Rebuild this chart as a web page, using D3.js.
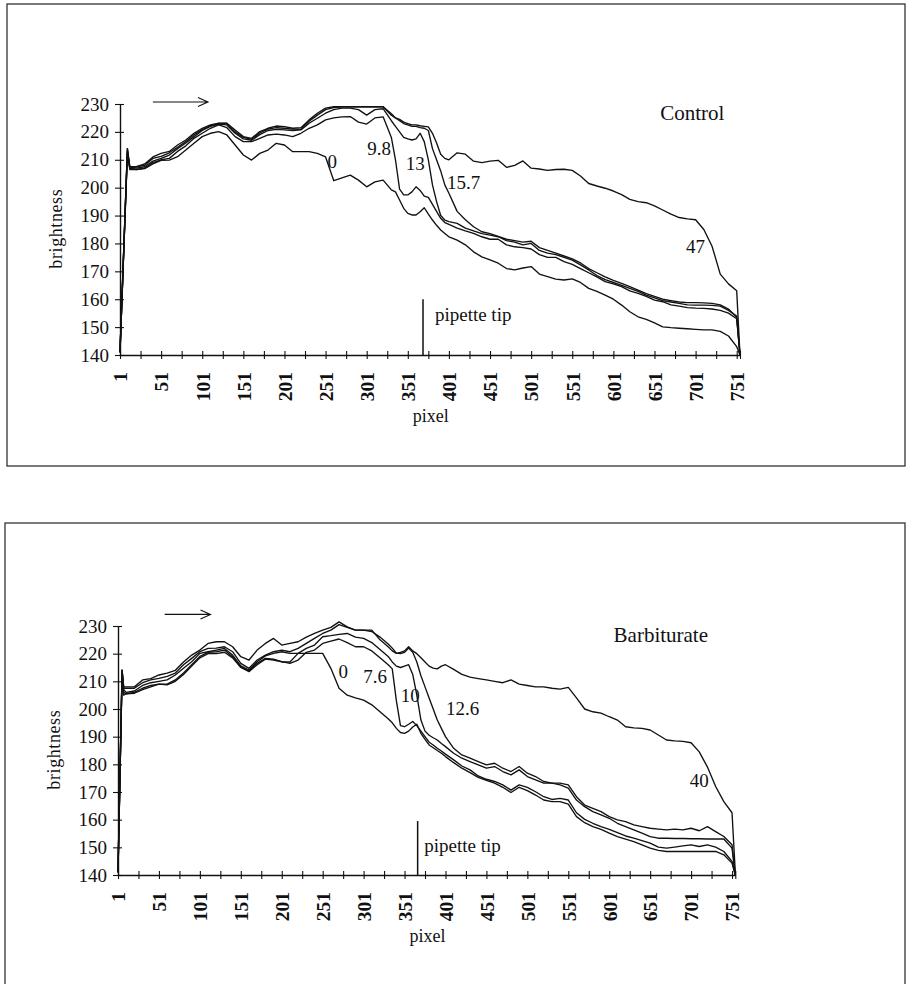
<!DOCTYPE html>
<html><head><meta charset="utf-8">
<script src="https://cdn.jsdelivr.net/npm/d3@7"></script>
<style>
body{margin:0;background:#fff}
svg{display:block}
text{font-family:"Liberation Serif","Times New Roman",serif;fill:#111}
</style>
</head><body><svg id="c" width="908" height="984"></svg>
<script>
// ---------- DATA ----------
const xTickValues = [1,26,51,76,101,126,151,176,201,226,251,276,301,326,351,376,401,426,451,476,501,526,551,576,601,626,651,676,701,726,751,755];
const xTickLabels = [1,51,101,151,201,251,301,351,401,451,501,551,601,651,701,751];
const yTickValues = [140,150,160,170,180,190,200,210,220,230];

const topPixels = [1,10,13,21,31,41,51,61,71,81,91,101,111,121,131,141,151,161,171,181,191,201,211,221,231,241,251,261,271,281,291,301,311,321,331,336,341,346,351,356,361,366,371,376,381,386,391,396,401,411,421,431,441,451,461,471,481,491,501,511,521,531,541,551,561,571,581,591,601,611,621,631,641,651,661,671,681,691,701,711,721,731,741,751,755];

const controlNames = ["0","9.8","13","15.7","47"];
const control0 = [141,213,207,206.5,206.8,208.5,209.8,209.9,211.1,213.5,215.9,218.3,219.5,220.1,218.9,215.3,211.7,209.9,212.3,213.5,215.9,215.3,212.9,212.9,212.9,212.3,211,202.5,203.5,204.5,202.7,200.3,202.1,202.7,199.2,198.5,195.6,192.6,190.8,190.2,190.2,191.4,192.8,190.5,188.4,186.5,184.8,183.6,182.4,181.2,179.5,177,175.2,174.1,172.9,171,170.5,171.2,171.7,169,168.1,167.2,166.9,167.3,166,163.9,162.8,161.5,160,157.9,155.5,153.7,152.8,151.5,150.1,149.8,149.6,149.4,149.2,149,149,148.5,146.8,143,140];
const control98 = [141,212,206.5,206.5,207,209,210,210.5,213,215,217.7,219.5,221.3,222.5,221.5,218.3,216.5,216.5,217.7,218.9,219.2,218.9,218.3,219.5,221.3,222.5,224.3,225,225.4,225.5,223.5,222.8,225,225.4,218,210,199.5,197.4,197.4,198.5,200.3,199,197,196.5,194,191.5,189,187.5,186.8,185.5,184.5,183.6,182.4,181.5,181.5,179.5,178.8,178.5,178,176,175,175,173.5,172.5,171,169.5,168,166.3,165.5,164.5,163,162.1,161,159.7,159.1,158,157.5,157,156.8,156.7,156.5,156,155,153,140];
const control13 = [141,213,207,207,207.5,209.5,210.5,211.7,214,216,218.3,220.5,222,222.8,222.5,219.5,217.5,217,219,220.5,220.9,220.7,220.5,220.7,223.1,224.9,226.7,228,228.5,228.5,228,226,228,228.3,224,222,220,218,217.5,217.1,217.5,219.5,216.5,210,201,195,190,188.4,187.8,187.2,185.5,184.5,183.5,183,182.4,181,180.5,179.5,180,177.5,176.5,176,175,174,172.3,170.5,168.5,167,166,165,163.9,162.8,161.5,160.5,159.5,159,158.5,158,157.9,157.9,157.8,157.5,156,154,140];
const control157 = [141,214,207.5,207.5,208,210.5,211.2,212.5,214.5,216.5,219,220.8,222.2,223,223,220,218,217.3,219.6,221,221.5,221.3,221,220.9,223.8,226,228,228.7,229,229,229,229,229,229,226.5,225,224,223,222.5,222,222,221.5,221.3,220.5,214,210,206,201,198,191.5,188.5,186,184.2,183.5,182.5,181.5,181,180.5,180.8,178.5,177.5,176.5,175.5,174.5,173,171,169.5,168,166.8,165.7,164.5,163.3,162,161,160,159.5,159,158.8,158.8,158.7,158.5,158,156.5,153.5,140];
const control47 = [141,214,207,207.5,208.5,211,212.3,213,215.3,217.1,219.5,221.3,222.5,223.1,223.1,220.7,218.3,217.7,220.1,221.3,222.1,221.9,221.3,221.5,224.3,226.7,228.5,229,229,229,229,229,229,229,226,225,224.5,223.5,223,222.5,222.5,222.2,222,221.8,219.5,216,212,210.5,210,212.5,212,209.5,209,209.5,209.8,207.3,208,209.6,207,206.7,206.2,206.5,206.6,206.2,204.2,201.5,200.6,199.8,198.8,197.5,195.8,195,194.6,193.5,192,190.5,189.3,188.8,188.5,185,179,169,165.5,163,140];

const botPixels = [1,6,8,11,21,31,41,51,61,71,81,91,101,111,121,131,141,151,161,171,181,191,201,211,221,231,241,251,261,271,281,291,301,311,321,331,336,341,346,351,356,361,366,371,376,381,386,391,396,401,411,421,431,441,451,461,471,481,491,501,511,521,531,541,551,561,571,581,591,601,611,621,631,641,651,661,671,681,691,701,711,721,731,741,751,755];

const barbNames = ["0","7.6","10","12.6","40"];
const barb0 = [141,212,205,205.5,205.7,207,208,209,208.7,210,212.5,215.5,218.5,220,220,220.5,218.5,215,213.5,216,218,217.7,217,217,220.1,220.1,220.1,220.1,214.7,207.5,205,204,203.2,201.5,199,196.5,195,193,191.5,191.2,192,193.5,194.5,191.2,189,187,186,185,184,182.8,180.6,178.6,177,175.3,174.2,173.2,171.7,169.8,171.7,170.5,168.9,167.1,166.5,166.5,165.6,161.1,158.9,157.5,156.5,155.1,153.9,153,152.1,150.9,149.7,148.9,148.5,148.5,148.5,148.5,148.5,148.5,148.5,147.3,144.3,140];
const barb76 = [141,213,206,205.5,206,207.5,208.5,209,209,210.5,213,216,219,220.5,220.7,221.3,218.9,215.2,213.8,216.5,218.3,218,217.1,216.5,217.7,220.5,221.3,223.7,224.5,225.3,224,222.5,222.5,221,218.5,216,214.5,203,194,193.6,194.5,195.5,194,192,190,188,187,185.8,184.8,183.7,181.6,179.4,178,175.8,174.6,173.8,172.6,170.7,172.6,171.7,170.1,168.3,167.3,167.7,167.1,162.5,160.1,158.7,157.5,156.5,155.3,154.1,153.3,152.4,151.5,150.1,149.7,150.1,150.5,150.9,150.3,150.9,150.1,148.5,144.9,140];
const barb10 = [141,214,207,206,206.5,208.5,209.5,210,210.5,212.3,214.7,217.1,220.1,220.7,221.3,221.9,219.5,215.6,214.1,217.1,219.2,220.1,220.7,220.1,220.1,221.9,223.1,226.1,226.5,227,227.3,226,225.5,224,221.5,219,217,215.5,215,215.5,216,212.5,205,196,192,190.5,189.6,188.8,187.5,186.4,184,182.2,181,179.8,178.6,179.2,177.4,176.2,178,175.6,174.4,173.2,173.2,172.6,171.4,167.1,164.7,162.9,161.7,160.5,158.7,157.5,156.3,155.1,153.9,153.3,153.3,153.2,153.2,153.1,153.1,153,153,153,149.7,140];
const barb126 = [141,214,207.5,207.5,207.5,209.5,210.5,211.1,211.8,213,216,218.3,220.7,221.9,222,222.5,220.7,216.5,214.7,217.7,219.5,220.7,221.3,220.7,221.9,223.7,225.5,227.3,228.5,230.5,229.5,228.5,228.5,228,226,223.5,222,220.2,220,220.5,222,220.5,217,212,208,204,200,196,193,190,185.8,183.4,182.2,181,179.8,180.4,178.6,177.4,179.2,176.8,175.6,173.8,173.2,173.2,172.6,168.3,165.3,164.1,162.9,161.1,159.9,159.3,158.1,157.5,156.9,156.6,156.3,156.6,156.3,156.9,156,157.5,155.7,153.9,150.9,140];
const barb40 = [141,214,208,208,208,210.5,211,212.3,213,214,217,219.5,221.3,223.7,224.3,224.3,222.5,218.9,217.7,221.3,223.7,225.5,223.1,223.7,224.3,226,227.3,228.5,229.5,231.5,229.7,228.5,228.5,228.5,225,222.5,221,220.1,220.5,221,222.5,221,220,218.5,217,215.5,214.8,214.5,215.5,216,214.3,212.5,211.5,211,210.5,210,209.5,210.5,209,208.5,208,208,207.5,207.2,207.8,204,200,199,198.5,197.2,196,193.6,193.2,193,192.4,190.6,188.8,188.5,188.3,187.8,184.5,179,172,166.5,162.5,141];

// annotation anchors in data units (pixel, brightness)
const controlLabelPos = [[259,209.6],[316,214],[360,208.7],[419,201.8],[701,178.9]];
const barbLabelPos = [[276,213.5],[315,211.7],[358,205.1],[422,200.2],[711,174.3]];

// ---------- LAYOUT ----------
const panels = [
  {title:"Control", box:[7,4,905,466], xr:[120,740], yr:[355,104],
   pixels:topPixels, series:[control0,control98,control13,control157,control47],
   names:controlNames, labelPos:controlLabelPos,
   titleAt:[697,224.3], pipette:[369.5,160], pipText:[384,152.2], arrow:[41,108,230.7]},
  {title:"Barbiturate", box:[5,523,905,1010], xr:[118,735.3], yr:[875,626],
   pixels:botPixels, series:[barb0,barb76,barb10,barb126,barb40],
   names:barbNames, labelPos:barbLabelPos,
   titleAt:[664,224.2], pipette:[367,159.5], pipText:[375,148.3], arrow:[58,114,234.2]}
];

const svg = d3.select("#c");
const ink = "#111";

panels.forEach(P => {
  const g = svg.append("g");
  g.append("rect")
    .attr("x",P.box[0]).attr("y",P.box[1])
    .attr("width",P.box[2]-P.box[0]).attr("height",P.box[3]-P.box[1])
    .attr("fill","none").attr("stroke","#333").attr("stroke-width",1.3);

  const x = d3.scaleLinear().domain([1,755]).range(P.xr);
  const y = d3.scaleLinear().domain([140,230]).range(P.yr);

  // X axis
  const gx = g.append("g").attr("transform",`translate(0,${y(140)})`)
    .call(d3.axisBottom(x).tickValues(xTickValues).tickSize(4).tickSizeOuter(0)
      .tickFormat(d => xTickLabels.includes(d) ? d : ""));
  gx.attr("font-family",null).attr("font-size",null).attr("color",ink);
  gx.select(".domain").attr("stroke-width",1.4);
  gx.selectAll(".tick line").attr("y1",-4).attr("y2",4).attr("stroke-width",1.1);
  gx.selectAll(".tick text")
    .attr("transform","rotate(-90)")
    .attr("x",-17).attr("y",0).attr("dy","0.35em")
    .attr("text-anchor","end")
    .style("font-size","19.5px").style("font-weight","bold");

  // Y axis
  const gy = g.append("g").attr("transform",`translate(${x(1)},0)`)
    .call(d3.axisLeft(y).tickValues(yTickValues).tickSize(5).tickPadding(6).tickSizeOuter(0));
  gy.attr("font-family",null).attr("font-size",null).attr("color",ink);
  gy.select(".domain").attr("stroke-width",1.4);
  gy.selectAll(".tick line").attr("x1",4).attr("x2",-5).attr("stroke-width",1.1);
  gy.selectAll(".tick text").style("font-size","19px");

  // axis titles
  g.append("text").attr("x",x(379)).attr("y",y(140)+67)
    .attr("text-anchor","middle").style("font-size","18px").text("pixel");
  g.append("text")
    .attr("transform",`translate(${x(1)-64},${y(185.3)}) rotate(-90)`)
    .attr("text-anchor","middle").attr("dy","0.35em")
    .style("font-size","18px").style("letter-spacing","0.6px").text("brightness");

  // pipette tip
  g.append("line")
    .attr("x1",x(P.pipette[0])).attr("x2",x(P.pipette[0]))
    .attr("y1",y(140)).attr("y2",y(P.pipette[1]))
    .attr("stroke",ink).attr("stroke-width",1.5);
  g.append("text").attr("x",x(P.pipText[0])).attr("y",y(P.pipText[1]))
    .style("font-size","19px").text("pipette tip");

  // arrow
  const ax0 = x(P.arrow[0]), ax1 = x(P.arrow[1]), ay = y(P.arrow[2]);
  g.append("path")
    .attr("d",`M${ax0},${ay}H${ax1}M${ax1-10},${ay-4.5}L${ax1},${ay}L${ax1-10},${ay+4.5}`)
    .attr("fill","none").attr("stroke",ink).attr("stroke-width",1.1);

  // series
  const line = d3.line()
    .x((d,i) => x(P.pixels[i]))
    .y(d => y(d));
  g.append("g").selectAll("path").data(P.series).join("path")
    .attr("d", d => line(d))
    .attr("fill","none").attr("stroke",ink).attr("stroke-width",1.35)
    .attr("stroke-linejoin","round");

  // curve labels
  g.append("g").selectAll("text").data(P.names).join("text")
    .attr("x",(d,i) => x(P.labelPos[i][0]))
    .attr("y",(d,i) => y(P.labelPos[i][1]))
    .attr("text-anchor","middle").attr("dy","0.35em")
    .style("font-size","19px").text(d => d);

  // panel title
  g.append("text").attr("x",x(P.titleAt[0])).attr("y",y(P.titleAt[1]))
    .attr("text-anchor","middle").style("font-size","21px").text(P.title);
});
</script>
</body></html>
